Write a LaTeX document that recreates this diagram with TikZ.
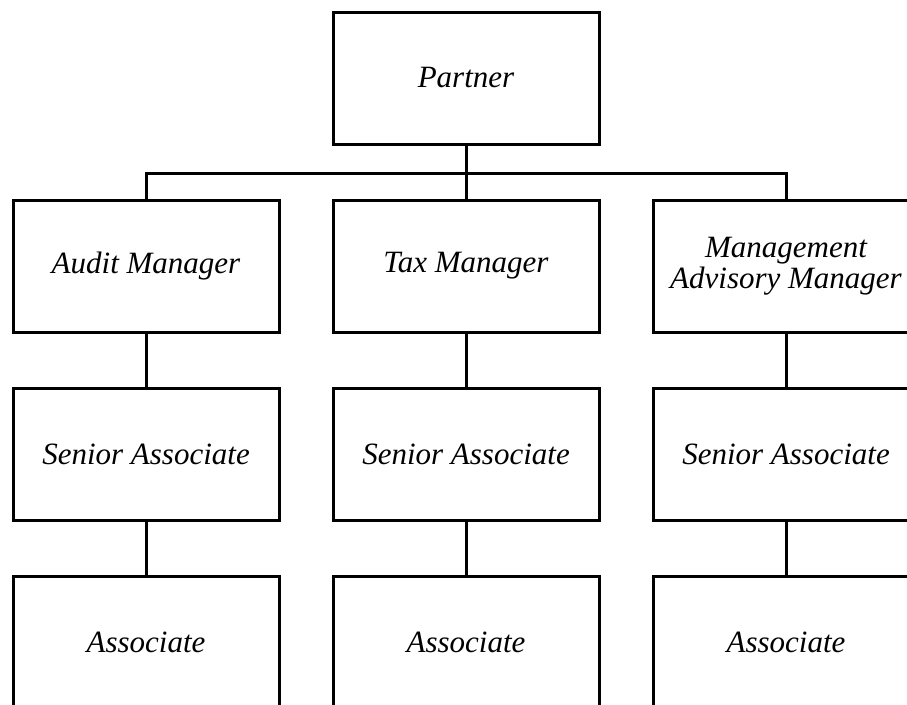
\documentclass[tikz,border=0pt]{standalone}
\usepackage{fontspec}
\setmainfont{Liberation Serif}
\usetikzlibrary{positioning}

\begin{document}
\begin{tikzpicture}[x=1pt,y=-1pt,line width=3pt,
    box/.style={draw,minimum width=266pt,minimum height=132pt,align=center,inner sep=0pt,font=\fontsize{31}{31}\selectfont\itshape}]
    \clip (0,0) rectangle (907,704);
    \node[box] (partner) at (466,78) {Partner};
    \foreach \x/\t [count=\i] in {146/{Audit Manager},466/{Tax Manager},786/{Management\\Advisory Manager}}{
        \node[box] (mgr\i) at (\x,266) {\t};
        \node[box] (sen\i) at (\x,454) {Senior Associate};
        \node[box] (asc\i) at (\x,642) {Associate};
        \draw (mgr\i) -- (sen\i);
        \draw (sen\i) -- (asc\i);
    }
    \draw (partner.south) -- ++(0,28) coordinate (bus);
    \draw (mgr1.north) |- (bus) -| (mgr3.north);
    \draw (bus) -- (mgr2.north);
\end{tikzpicture}
\end{document}
